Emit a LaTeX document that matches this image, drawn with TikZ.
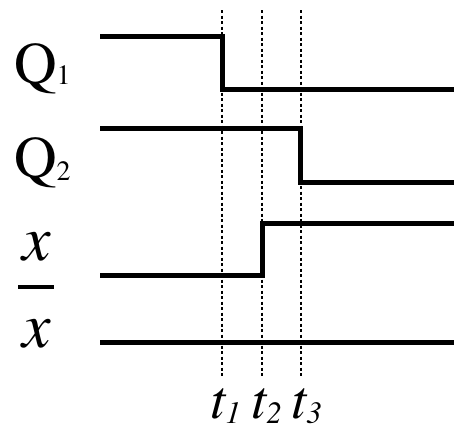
\documentclass[tikz,border=0pt]{standalone}
\usepackage{fontspec}
\newfontfamily\tms{texgyretermes}[Extension=.otf, UprightFont=*-regular, ItalicFont=*-italic, BoldFont=*-bold]
\begin{document}
\begin{tikzpicture}[x=1pt,y=-1pt,
  sig/.style={line width=5pt,miter limit=10},
  guide/.style={line width=2.2pt,dash pattern=on 3.3pt off 2.2pt},
  lbl/.style={anchor=base west,inner sep=0pt,outer sep=0pt},
  tlbl/.style={anchor=base west,inner sep=0pt,outer sep=0pt,font=\tms\fontsize{55}{55}\selectfont\itshape}]
\useasboundingbox (0,0) rectangle (454,431);
% guide lines
\coordinate (g1a) at (222,10); \coordinate (g1b) at (222,378);
\coordinate (g2a) at (262,10); \coordinate (g2b) at (262,378);
\coordinate (g3a) at (301,10); \coordinate (g3b) at (301,378);
\draw[guide] (g1a) -- (g1b);
\draw[guide] (g2a) -- (g2b);
\draw[guide] (g3a) -- (g3b);
% signals
\draw[sig] (100,36) -- (222,36) -- (222,89.5) -- (454,89.5);
\draw[sig] (100,128) -- (300,128) -- (300,182) -- (454,182);
\draw[sig] (100,275.5) -- (262,275.5) -- (262,223) -- (454,223);
\draw[sig] (100,342) -- (454,342);
% labels
\node[lbl,font=\tms\fontsize{59}{59}\selectfont] (q1) at (14,83) {Q\raisebox{-1pt}{\fontsize{28}{28}\selectfont 1}};
\node[lbl,font=\tms\fontsize{59}{59}\selectfont] (q2) at (14,177) {Q\raisebox{-3pt}{\fontsize{28}{28}\selectfont 2}};
\node[anchor=base,inner sep=0pt,font=\tms\fontsize{64}{64}\selectfont\itshape] (x) at (37,260) {x};
\node[anchor=base,inner sep=0pt,font=\tms\fontsize{64}{64}\selectfont\itshape] (xb) at (37,347) {x};
\draw[line width=3.5pt] (18,287) -- (54,287);
\node[tlbl] (t1) at (210,418) {t\raisebox{-5pt}[\height][0pt]{\fontsize{31}{31}\selectfont 1}};
\node[tlbl] (t2) at (251,418) {t\raisebox{-5pt}[\height][0pt]{\fontsize{31}{31}\selectfont 2}};
\node[tlbl] (t3) at (291,418) {t\raisebox{-5pt}[\height][0pt]{\fontsize{31}{31}\selectfont 3}};
\end{tikzpicture}
\end{document}
